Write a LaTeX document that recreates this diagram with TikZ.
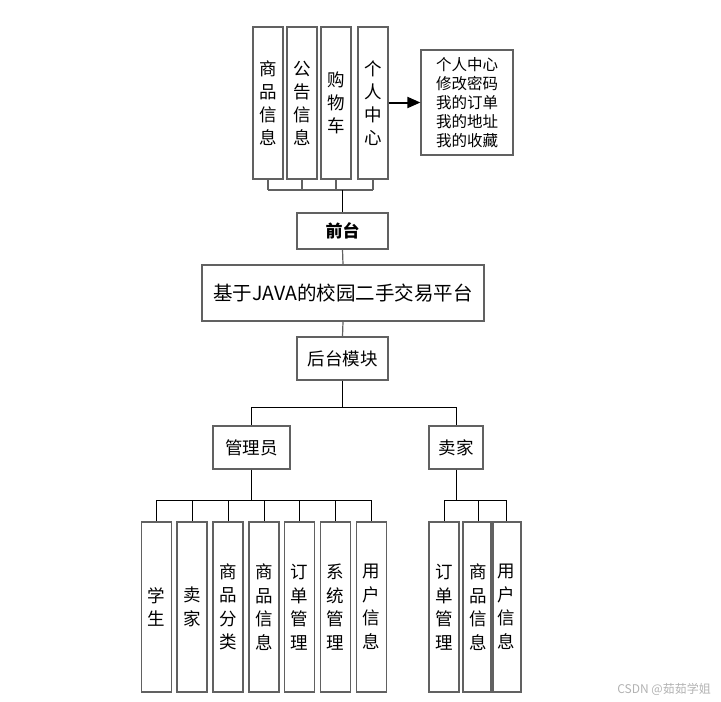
\documentclass[tikz,border=0pt]{standalone}
\usepackage{fontspec}
\newfontfamily\cjk{Noto Sans CJK SC}
\usetikzlibrary{arrows.meta}
\begin{document}
\begin{tikzpicture}[x=1pt,y=-1pt,
  box/.style={draw=black!62, line width=1.2pt, inner sep=0pt, align=center, text=black,
    font=\cjk\fontsize{17.5}{23}\selectfont},
  vbox/.style={box, minimum width=30pt},
  topbox/.style={vbox, minimum height=152pt},
  botbox/.style={vbox, minimum height=170pt, font=\cjk\fontsize{17.5}{23.5}\selectfont},
  gconn/.style={draw=black!62, line width=1.2pt},
  conn/.style={draw=black, line width=1pt},
  thickconn/.style={draw=black, line width=1.8pt}]
\useasboundingbox (0,0) rectangle (721,702);
% top row
\node[topbox] (t1) at (268,103) {商\\品\\信\\息};
\node[topbox] (t2) at (302,103) {公\\告\\信\\息};
\node[topbox] (t3) at (336,103) {购\\物\\车};
\node[topbox] (t4) at (373,103) {个\\人\\中\\心};
\node[box, minimum width=92pt, minimum height=105pt, align=left,
  font=\cjk\fontsize{15.5}{19}\selectfont] (lst) at (467,102.5)
  {个人中心\\修改密码\\我的订单\\我的地址\\我的收藏};
\draw[black, line width=2pt, -{Triangle[length=13pt,width=11pt]}] (t4.east |- lst.west) -- (lst.west);
% middle
\node[box, minimum width=91pt, minimum height=36pt, font=\cjk\bfseries\fontsize{17}{20}\selectfont] (qt) at (342.5,231) {前台};
\node[box, minimum width=282pt, minimum height=56pt, font=\cjk\fontsize{19.5}{22}\selectfont] (main) at (343,293) {基于JAVA的校园二手交易平台};
\node[box, minimum width=91pt, minimum height=43pt] (ht) at (342.5,358.5) {后台模块};
\node[box, minimum width=77pt, minimum height=43pt] (gly) at (251.5,447.5) {管理员};
\node[box, minimum width=54pt, minimum height=43pt] (mj) at (456,447.5) {卖家};
% bottom admin
\node[botbox] (a1) at (156.5,607) {学\\生};
\node[botbox] (a2) at (192,607) {卖\\家};
\node[botbox] (a3) at (228,607) {商\\品\\分\\类};
\node[botbox] (a4) at (264,607) {商\\品\\信\\息};
\node[botbox] (a5) at (299.5,607) {订\\单\\管\\理};
\node[botbox] (a6) at (335.5,607) {系\\统\\管\\理};
\node[botbox] (a7) at (371.5,607) {用\\户\\信\\息};
% bottom seller
\node[botbox] (s1) at (444,607) {订\\单\\管\\理};
\node[botbox] (s2) at (478,607) {商\\品\\信\\息};
\node[botbox] (s3) at (506,607) {用\\户\\信\\息};
% connectors top
\coordinate (tbus) at (343,190);
\foreach \n in {t1,t2,t3,t4} \draw[gconn] (\n.south) -- (\n.south |- tbus);
\draw[gconn] (t1.south |- tbus) -- (t4.south |- tbus);
\draw[thickconn] (qt.north |- tbus) -- (qt.north);
\draw[gconn] (qt.south) -- (main.north);
\draw[gconn] (main.south) -- (ht.north);
% backend
\coordinate (hbus) at (343,407);
\draw[thickconn] (ht.south) -- (ht.south |- hbus);
\draw[conn] (gly.north |- hbus) -- (mj.north |- hbus);
\draw[conn] (gly.north |- hbus) -- (gly.north);
\draw[conn] (mj.north |- hbus) -- (mj.north);
% admin children
\coordinate (abus) at (251.5,500);
\draw[thickconn] (gly.south) -- (gly.south |- abus);
\draw[conn] (a1.north |- abus) -- (a7.north |- abus);
\foreach \n in {a1,a2,a3,a4,a5,a6,a7} \draw[conn] (\n.north |- abus) -- (\n.north);
% seller children
\coordinate (sbus) at (456,500);
\draw[conn] (mj.south) -- (mj.south |- sbus);
\draw[conn] (s1.north |- sbus) -- (s3.north |- sbus);
\foreach \n in {s1,s2,s3} \draw[conn] (\n.north |- sbus) -- (\n.north);
% watermark
\node[anchor=east, text=black!30, font=\cjk\fontsize{12}{14}\selectfont, inner sep=0pt] (wm) at (711,689) {CSDN @茹茹学姐};
\end{tikzpicture}
\end{document}
